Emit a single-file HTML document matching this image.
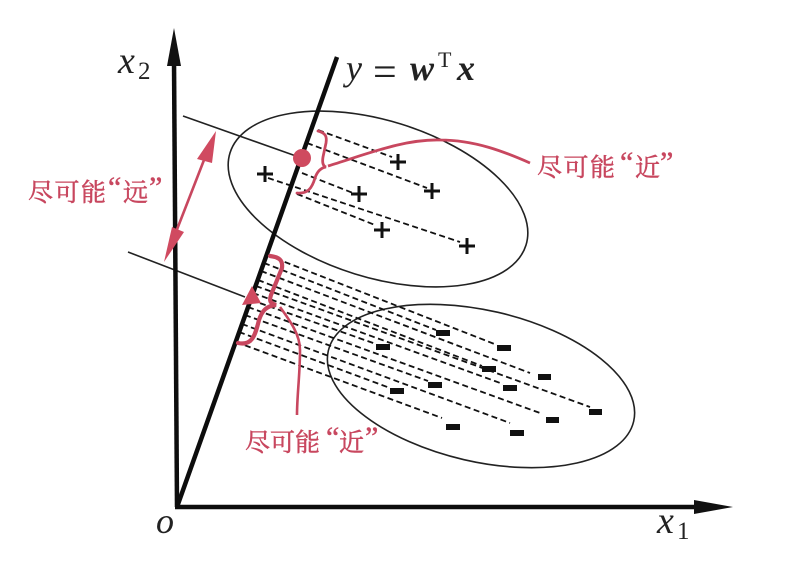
<!DOCTYPE html>
<html>
<head>
<meta charset="utf-8">
<style>
html,body{margin:0;padding:0;background:#fff;}
svg{display:block;}
.m{font-family:"Liberation Serif",serif;font-style:italic;fill:#222;}
.r{font-family:"Liberation Serif",serif;fill:#222;}
.c{font-family:"Noto Serif CJK SC",serif;font-size:25px;fill:#c8475f;stroke:#c8475f;stroke-width:.5;}
.q{font-family:"Liberation Serif",serif;font-size:30px;fill:#c8475f;stroke:#c8475f;stroke-width:.4;}
</style>
</head>
<body>
<svg width="799" height="564" viewBox="0 0 799 564" xmlns="http://www.w3.org/2000/svg">
<rect width="799" height="564" fill="#fff"/>
<g fill="none" stroke="#222">
<ellipse cx="378" cy="199" rx="155" ry="78.4" transform="rotate(17.3 378 199)" stroke-width="1.6"/>
<ellipse cx="481" cy="386" rx="156.7" ry="75.6" transform="rotate(13 481 386)" stroke-width="1.6"/>
<path d="M183 116L296 156" stroke-width="1.6"/>
<path d="M128 252L245 297" stroke-width="1.6"/>
</g>
<g stroke="#111" stroke-width="1.8" stroke-dasharray="6 3.5" fill="none">
<path d="M318 130L392 157"/>
<path d="M307 143L427 188"/>
<path d="M302 173L353 193"/>
<path d="M268 178L460 242"/>
<path d="M297 194L375 225"/>
<path d="M267 255L497 345"/>
<path d="M264 263L436 330"/>
<path d="M261 271L530 373"/>
<path d="M258 280L482 366"/>
<path d="M256 286L590 407"/>
<path d="M253 293L503 384"/>
<path d="M251 300L376 344"/>
<path d="M248 307L540 413"/>
<path d="M245 315L428 381"/>
<path d="M242 324L510 423"/>
<path d="M239 332L390 388"/>
<path d="M236 342L442 418"/>
</g>
<g fill="none" stroke="#0d0d0d">
<path d="M177 507L174 60" stroke-width="4.5"/>
<path d="M177 507L337 57" stroke-width="4.5"/>
<path d="M175 507L700 507" stroke-width="4.5"/>
</g>
<path d="M174 28L181 66L167 66Z" fill="#111"/>
<path d="M733 507L694 500L694 514Z" fill="#111"/>
<g stroke="#111" stroke-width="3" fill="none">
<path d="M390 162H406M398 154V170"/>
<path d="M424 191H440M432 183V199"/>
<path d="M351 194H367M359 186V202"/>
<path d="M257 174H273M265 166V182"/>
<path d="M374 230H390M382 222V238"/>
<path d="M459 246H475M467 238V254"/>
</g>
<g fill="#111">
<rect x="436" y="330" width="14" height="6"/>
<rect x="497" y="345" width="14" height="6"/>
<rect x="376" y="344" width="14" height="6"/>
<rect x="482" y="366" width="14" height="6"/>
<rect x="538" y="374" width="13" height="6"/>
<rect x="428" y="382" width="14" height="6"/>
<rect x="503" y="385" width="14" height="6"/>
<rect x="390" y="388" width="14" height="6"/>
<rect x="589" y="409" width="13" height="6"/>
<rect x="546" y="417" width="13" height="6"/>
<rect x="446" y="424" width="14" height="6"/>
<rect x="510" y="430" width="14" height="6"/>
</g>
<g fill="none" stroke="#c8475f" stroke-linecap="round">
<path d="M318 131C326 133 327 137 326 143L323 157C322 163 323 166 326 167C320 168 317 172 315 178C312 188 308 194 297 193" stroke-width="2.8"/>
<path d="M270 256C279 257 283 260 282 268L271 295C269 301 270 303 276 305C266 306 262 311 259 320C255 336 252 346 238 343" stroke-width="4.2"/>
<path d="M328 166C370 153 405 139 440 140C475 140 505 152 530 163" stroke-width="2.8" stroke-linecap="butt"/>
<path d="M280 307C291 322 300 335 300 350C300 375 297 395 297 415" stroke-width="2.6" stroke-linecap="butt"/>
<path d="M204 160L176 232" stroke-width="2.6" stroke-linecap="butt"/>
</g>
<circle cx="302" cy="158" r="9" fill="#cf4a5f"/>
<g fill="#d04a60">
<path d="M252 286L261 303L242 305Z"/>
<path d="M216 131L212 163L197 159Z"/>
<path d="M164 262L172 227L184 232Z"/>
</g>
<text class="m" x="118" y="73" font-size="38">x</text>
<text class="r" x="138" y="79" font-size="25">2</text>
<text class="m" x="156" y="533" font-size="36">o</text>
<text class="m" x="657" y="533" font-size="38">x</text>
<text class="r" x="677" y="539" font-size="25">1</text>
<text class="m" x="346" y="80" font-size="36">y</text>
<text class="r" x="373" y="86" font-size="42">=</text>
<text class="m" x="410" y="80" font-size="36" font-weight="bold">w</text>
<text class="r" x="438" y="67" font-size="22">T</text>
<text class="m" x="457" y="80" font-size="36" font-weight="bold">x</text>
<text class="c" x="537" y="176" textLength="78">尽可能</text>
<text class="q" x="620" y="172">“</text>
<text class="c" x="635" y="176">近</text>
<text class="q" x="660" y="172">”</text>
<text class="c" x="28" y="201" textLength="78">尽可能</text>
<text class="q" x="108" y="197">“</text>
<text class="c" x="123" y="201">远</text>
<text class="q" x="149" y="197">”</text>
<text class="c" x="245" y="451" textLength="75">尽可能</text>
<text class="q" x="326" y="447">“</text>
<text class="c" x="339" y="451">近</text>
<text class="q" x="365" y="447">”</text>
</svg>
</body>
</html>
